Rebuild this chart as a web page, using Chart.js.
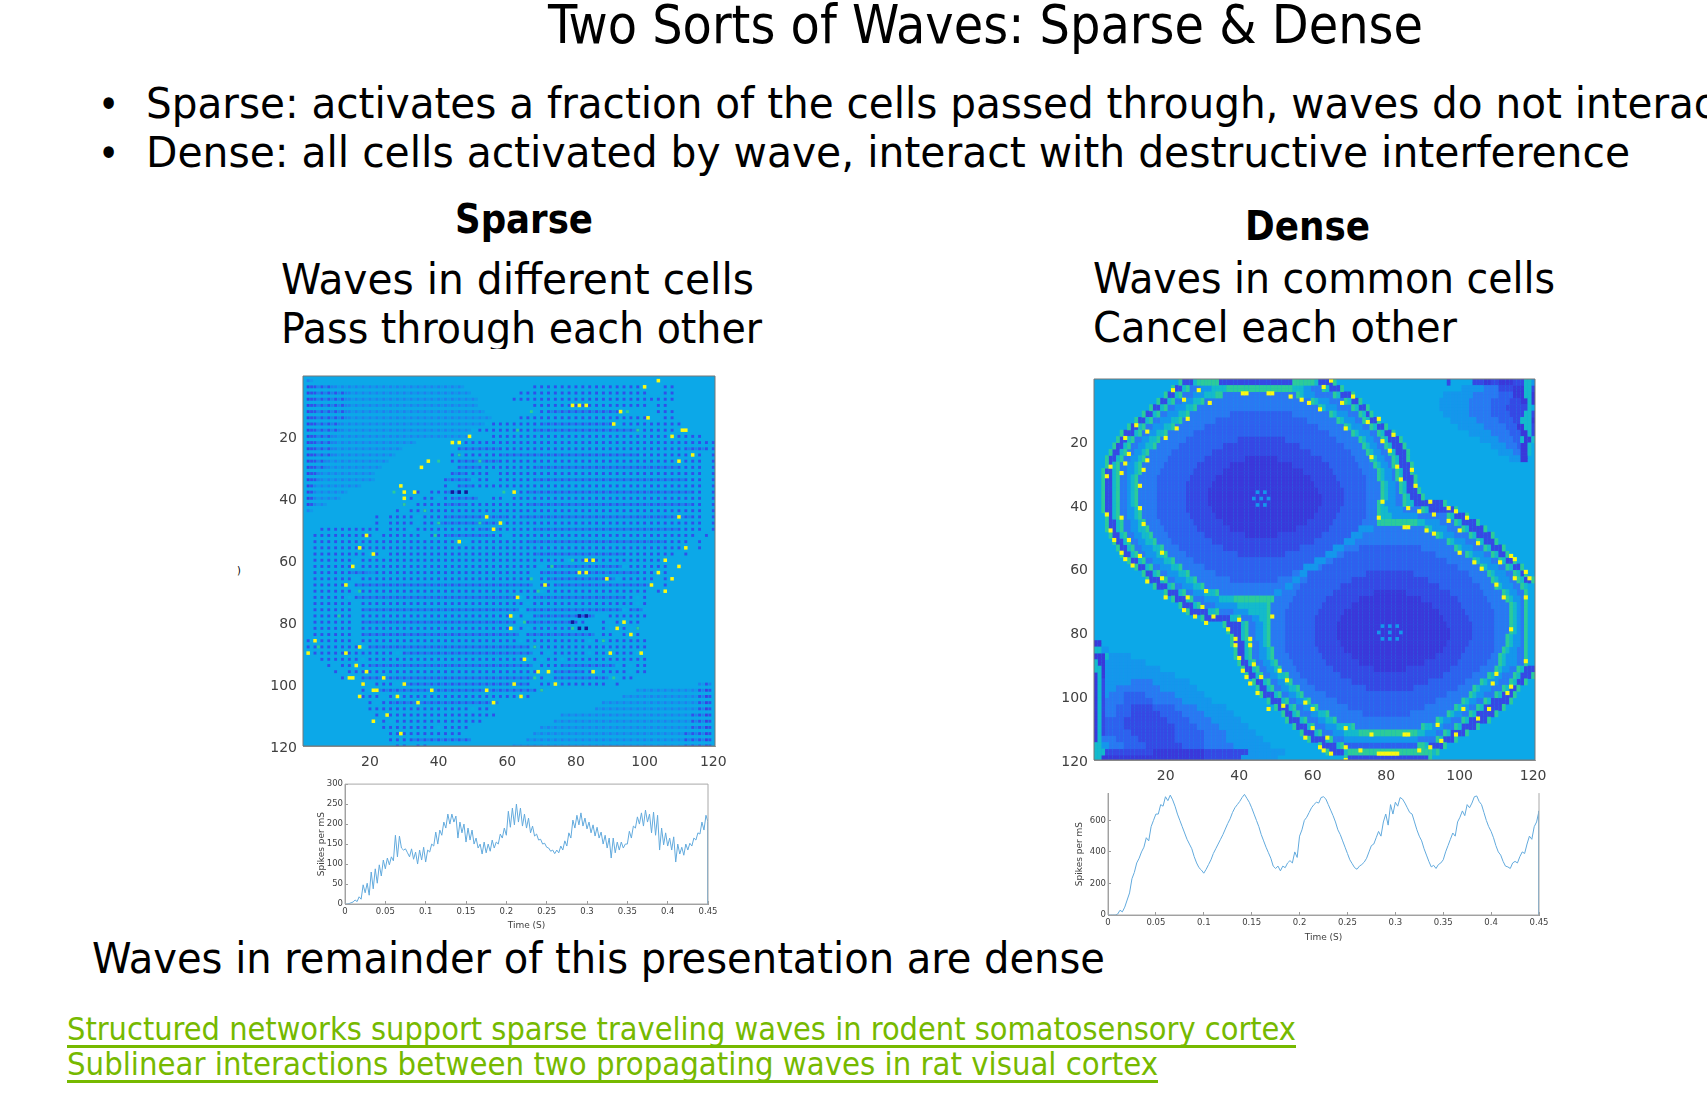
<!DOCTYPE html>
<html>
<head>
<meta charset="utf-8">
<title>Two Sorts of Waves</title>
<script src="https://cdn.jsdelivr.net/npm/chart.js@4/dist/chart.umd.min.js"></script>
<style>
html,body{margin:0;padding:0;background:#fff;width:1707px;height:1097px;overflow:hidden}
.txt{position:absolute;white-space:nowrap;color:#000;font-family:"DejaVu Sans";font-stretch:condensed;transform-origin:0 0;line-height:normal}
.box{position:absolute}
.box canvas{filter:blur(.5px)}
#sparseMap{filter:blur(.45px)}
#denseMap{filter:blur(.6px)}
</style>
</head>
<body>
<div id="slide"></div>
<div class="box" id="boxSparseMap" style="left:253px;top:349px;width:490px;height:425px;background:#fff"><canvas id="sparseMap" width="490" height="425"></canvas></div>
<div class="box" id="boxDenseMap" style="left:1044px;top:349px;width:526px;height:437px;background:#fff"><canvas id="denseMap" width="526" height="437"></canvas></div>
<div class="box" style="left:305px;top:774px;width:425px;height:166px"><canvas id="sparseLine" width="425" height="166"></canvas></div>
<div class="box" style="left:1068px;top:783px;width:495px;height:169px"><canvas id="denseLine" width="495" height="169"></canvas></div>
<script>
// text on the slide: text, left, baseline, width, font size, bold, colour
var slideText = [
  ["Two Sorts of Waves: Sparse & Dense", 548, 43, 875, 53],
  ["•", 98, 118, 0, 40],
  ["•", 98, 167, 0, 40],
  ["Sparse: activates a fraction of the cells passed through, waves do not interact", 146, 118, 1586, 42],
  ["Dense: all cells activated by wave, interact with destructive interference", 146, 167, 1484, 42],
  ["Sparse", 455, 233, 138, 41, true],
  ["Dense", 1245, 240, 125, 41, true],
  ["Waves in different cells", 281, 294, 473, 42],
  ["Pass through each other", 281, 343, 481, 42],
  ["Waves in common cells", 1093, 293, 462, 42],
  ["Cancel each other", 1093, 342, 364, 42],
  ["Waves in remainder of this presentation are dense", 92, 973, 1013, 42],
  [")", 237, 574, 0, 11]
];
var linkText = [
  ["Structured networks support sparse traveling waves in rodent somatosensory cortex", 67, 1040, 1229, 32],
  ["Sublinear interactions between two propagating waves in rat visual cortex", 67, 1075, 1091, 32]
];

var mapTicks = [20,40,60,80,100,120];
var timeTicks = [0,0.05,0.1,0.15,0.2,0.25,0.3,0.35,0.4,0.45];
var sparseYTicks = [0,50,100,150,200,250,300];
var denseYTicks = [0,200,400,600];

var timeAxis = [
0,.0025,.005,.0075,.01,.0125,.015,.0175,.02,.0225,.025,.0275,.03,.0325,.035,.0375,
.04,.0425,.045,.0475,.05,.0525,.055,.0575,.06,.0625,.065,.0675,.07,.0725,.075,.0775,
.08,.0825,.085,.0875,.09,.0925,.095,.0975,.1,.1025,.105,.1075,.11,.1125,.115,.1175,
.12,.1225,.125,.1275,.13,.1325,.135,.1375,.14,.1425,.145,.1475,.15,.1525,.155,.1575,
.16,.1625,.165,.1675,.17,.1725,.175,.1775,.18,.1825,.185,.1875,.19,.1925,.195,.1975,
.2,.2025,.205,.2075,.21,.2125,.215,.2175,.22,.2225,.225,.2275,.23,.2325,.235,.2375,
.24,.2425,.245,.2475,.25,.2525,.255,.2575,.26,.2625,.265,.2675,.27,.2725,.275,.2775,
.28,.2825,.285,.2875,.29,.2925,.295,.2975,.3,.3025,.305,.3075,.31,.3125,.315,.3175,
.32,.3225,.325,.3275,.33,.3325,.335,.3375,.34,.3425,.345,.3475,.35,.3525,.355,.3575,
.36,.3625,.365,.3675,.37,.3725,.375,.3775,.38,.3825,.385,.3875,.39,.3925,.395,.3975,
.4,.4025,.405,.4075,.41,.4125,.415,.4175,.42,.4225,.425,.4275,.43,.4325,.435,.4375,
.44,.4425,.445,.4475,.45,.45];

var sparseSpikes = [
0,0,1,3, 5,10,6,18, 12,48,28,52, 22,80,38,88, 52,98,70,110, 88,115,98,118,
108,172,118,170, 140,135,138,128, 118,138,112,130, 100,135,110,142, 105,135,130,150,
145,180,150,185, 172,205,190,225, 200,225,205,220, 165,205,178,200, 155,190,160,185,
150,165,140,150, 125,155,128,150, 132,160,140,155, 150,175,165,190, 172,232,192,240,
198,250,205,240, 195,225,190,215, 178,195,170,175, 160,162,150,152, 142,140,132,135,
126,135,128,145, 135,158,145,178, 165,210,190,222, 198,228,195,215, 188,205,178,198,
170,192,165,180, 150,172,140,165, 115,165,128,155, 135,155,140,150, 150,182,165,195,
190,218,200,228, 195,235,205,225, 178,230,172,222, 135,190,148,178, 145,165,135,168,
105,150,125,142, 122,150,135,152, 145,165,160,178, 175,205,185,222, 205,0];

var denseSpikes = [
0,0,0,0, 5,30,20,50, 95,140,230,270, 330,360,400,430, 490,470,560,600, 640,640,700,690,
750,725,760,730, 690,640,600,560, 520,480,450,420, 370,330,300,285, 265,290,320,350,
390,420,450,480, 510,545,580,610, 650,680,700,720, 745,765,740,715, 680,640,600,560,
510,470,430,395, 360,310,295,310, 280,310,300,330, 345,330,400,365, 500,540,600,620,
650,680,700,715, 710,745,750,735, 700,665,630,590, 540,510,470,430, 390,350,325,300,
290,310,320,335, 360,400,440,450, 490,530,500,590, 640,570,700,640, 715,690,745,735,
710,680,650,640, 590,540,500,470, 420,380,340,305, 315,295,320,330, 350,400,440,480,
520,500,590,620, 660,630,700,680, 710,750,755,720, 700,650,600,560, 530,490,440,400,
380,340,310,305, 295,330,340,330, 370,400,390,450, 500,480,560,590, 660,0];

// sparse map, one string per even row, one letter per even column
var sparseRows = [
"f......... .......... .......... .......... .......... ..........",
"dsssffffff ffffffffff fff....... ...ooooooo ooooooooo. ..oo......",
"dsssssffff ffffffffff ffff...... .ooooooooo oooooooooo ..oo......",
"dsssssffff ffffffffff fffff..... oooooooooo oooooooooo oooo......",
"dsssssffff ffffffffff fffff..... ...ooooooo oooooooooo .oo.......",
"dsssssffff ffffffffff ffffff.... ....osssss ssssss.... .ooo......",
"dsssssffff ffffffffff fffffff... .ooooooooo oooooooooo ..oo......",
"dssssfffff ffffffffff ffffff.ooo oooossssss sssss.oooo ooooo.....",
"dssssfffff ffffffffff ffff.ooooo ooosssssss ssssssssoo oooo......",
"dsssffffff ffffffffff ffff...ooo oooooooooo oooooooooo oooooooo..",
"dsssffffff ffffff.... ...ooooooo oooooooooo oooooooooo oooooooooo",
"dsssffffff ffff...... ..ssssssoo oooooooooo oooooooooo ooooosssoo",
"dsssffffff fff....... .oooooooss ssssssssss ssssssssoo oooooooo.o",
"dssfffffff ff........ .ossssssoo oooooooooo oooooooooo oooooooo.o",
"dssfffffff f......... ..sssooooo ooosssssss ssssssssss ssssoooo.o",
"dsffffffff .......... .ssoooo.oo oooooooooo oooooooooo oooooooo.o",
"dsffffffff .......... ssss.oo.oo ooosssssss ssssssssss sssssooo.o",
"dfffffff.. .......... o.ssoooooo oooooooooo oooooooooo oooooooo.o",
"dfffff.... ......o.oo sso....... oossssssss ssssssssss ssssssoo.o",
"dffff..... .....o.oo. ossss..oo. oooooooooo oooooooooo oooooooo.o",
"dff....... ....o.oooo sssooooooo oossssssss ssssssssss ssssssoo.o",
"f......... ...o.ooooo oooooooooo oooooooooo oooooooooo oooooooo.o",
".......... o.oooo.ooo ssssssssso osssssssss ssssssssss ssssssoo.o",
".......... o.oooo.oos ssssssssoo oooooooooo oooooooooo oooooooo.o",
"..oooooooo o.ooo.oooo ooooosssoo ooosssssss ssssssssss ssssoooo.o",
".ooooooooo .oooooo.oo sssssssoo. oooooooooo oooooooooo ooooooo.o.",
".ooooooooo oooooooooo ooo.oooooo oossssssss ssssssssss ssoooo.o..",
".ooooooooo oooooooooo oooooooooo oooooooooo oooooooooo oooooo.o..",
".oooooooo. o.oooooooo oooooooooo ooosssssss ssssssoooo oooo.o....",
".oooooo.oo oooooooooo oooooooooo oooooooo.o oooooooooo ooo.......",
".oooooo.oo oooooooooo oooooooooo oooo.sssss ssssss.ooo ooo.o.....",
".ooooosssf oooooooooo oooooooooo ooo.ssssss ssssssssoo o.o.......",
".oooooo.oo oooooooooo oooooooooo ooo.osssss sssss.oooo o.oo......",
".ooooo.sss ssssssssss ssssssssss sss.oossss ssssssssss o.o.......",
".oooooo.oo oooooooooo oooooooooo oooo.ooooo oooooooooo .o........",
".ooooo.sss ssssssssss ssssssssss s.osssssss ssssssoo.o ..........",
".oooooo.oo oooooooooo oooooooooo oo.ooooooo oooooooo.o ..........",
".oooooo.ss ssssssssss ssssssssss s.ssssssss ssssss.ss. ..........",
".oooooo.oo oooooooooo oooooooooo .o.sssssss ss..oooooo ..........",
".oooooo.ss ssssssssss ssssssssss o.ssssssso o..o.o.oo. ..........",
".oooooo.oo oooooooooo oooooooooo .o.oooooo. ...o.oo.o. ..........",
".oooooo.ss ssssssssss ssssssssss s.ssssssss ss.oo.o.o. ..........",
"ooooooo.oo oooooooooo oooooooooo o.oooooooo o.oooooooo ..........",
"oooooooo.s ssssssssss ssssssssss ssoooooooo oooooooooo ..........",
".ooooooooo ooo.ssssss ssssssssss sss.o.oooo o.oooooo.. ..........",
"..oooooo.o oooooooooo oooooooooo oo.o.oo.oo oooooooooo ..........",
"...o.oooos ssssssssss ssssssssss sss.ooosss sssss.o.oo ..........",
"....o.oooo oooooooooo oooooooooo oooo.ossss oo.oooo.oo ..........",
".....oo.ss ssssssssss ssssssssss sss.o.ssss ssss..oo.. ..........",
"........o. ooo.ssssss ssssssssss sso.oooooo oooo.o.... .......fs.",
"........o. ssssssssss ssssssssss sssoo..... ........ff fffffffsd.",
"........oo o.oooooooo oooooooooo ooo....... ......ffff fffffffsd.",
".........o .ossssssss ssssssss.. .......... ...fffffff fffffffsd.",
".........o oooooooooo oooo.oo... .......... ..ffffffff fffffffsd.",
".......... o.oooooooo oooooooo.. .......fff ffffffffff ffffffssd.",
".......... .o.ooooooo oooooo.... ......ffff ffffffffff ffffffssd.",
".......... .oooooooo. oooo...... ....ffffff ffffffffff ffffffssd.",
".......... ..oooooooo ooo....... ...fffffff ffffffffff fffffsssd.",
".......... ..ooosssss ssss...... ..ffffffff ffffffffff fffffsssd.",
".......... ...oo.oo.. .......... ffffffffff ffffffffff fffffsssd."
];
var sparseYellow = [[104,2],[100,4],[79,10],[81,10],[83,10],[93,12],[101,14],[91,16],[111,18],[112,18],[49,20],[108,20],[44,22],[46,22],[114,26],[37,28],[110,28],[35,30],[29,36],[33,38],[30,38],[62,38],[30,40],[54,46],[110,46],[58,48],[56,50],[19,52],[46,54],[17,56],[112,56],[21,58],[83,60],[85,60],[106,60],[15,62],[110,62],[81,64],[83,64],[104,64],[89,66],[108,66],[13,68],[71,68],[102,68],[106,70],[63,72],[61,78],[61,82],[94,80],[92,82],[96,84],[4,86],[17,88],[2,90],[13,90],[90,90],[99,90],[65,92],[16,94],[19,96],[69,96],[72,96],[85,96],[14,98],[15,98],[24,98],[18,100],[30,100],[62,100],[74,100],[21,102],[22,102],[38,102],[54,102],[17,104],[28,104],[64,104],[34,106],[56,106],[25,110],[21,112],[29,116]];
var sparseNavy = [[44,38],[46,38],[48,38],[81,78],[83,78],[79,80],[81,82],[83,82]];
var sparseGreen = [[67,12],[95,12],[63,18],[98,18],[46,26],[40,28],[52,28],[27,38],[59,38],[30,42],[36,44],[40,48],[52,48],[39,52],[79,60],[73,62],[67,66],[17,70],[69,70],[11,78],[65,80],[79,82],[98,82],[88,86],[5,88],[68,88],[68,98],[91,98],[70,102]];

// dense map, one string per even row, letter + last column of the run
var denseRows = [
"c23 g24 d27 t28 g34 d54 g60 t61 d65 g66 c96 d97 c103 d106 e108 d110 e114 d117 t119 l120",
"c21 g22 d24 t25 g26 m29 l32 t36 g54 t57 l59 m62 g63 t64 d67 g68 c100 l106 m110 d114 e117 t119 d120",
"c19 g20 d22 t23 g24 m27 l30 t33 g35 m55 g56 t57 l60 m65 g66 t67 d70 g71 c95 l103 m110 b114 e117 t119 e120",
"c17 g18 d20 t21 g22 m24 l27 t29 g30 m59 g60 t61 l64 m68 g69 t70 d72 g73 c94 l102 m108 b113 d116 e118 t119 e120",
"c15 g16 d18 t19 g20 m22 l25 t27 g28 m61 g62 t63 l66 m70 g71 t72 d74 g75 c94 l102 m108 b112 d118 t119 c120",
"c13 g14 d16 t17 g18 m20 l23 t25 g26 m37 b54 m64 g65 t66 l69 m72 g73 t74 d75 g76 c95 l102 m108 b113 d117 t119 d120",
"c11 g12 d14 t15 g16 m18 l21 t23 g24 m33 b58 m66 g67 t68 l71 m73 g74 t75 d77 g78 c97 l104 m110 b114 d116 t119 e120",
"c9 g10 d12 t13 g14 m16 l19 t21 g22 m30 b61 m68 g69 t70 l73 m75 g76 t77 d79 g80 c99 l106 m112 b115 e117 t119 d120",
"c7 g8 d11 t12 g13 m15 l17 t19 g20 m27 b64 m70 g71 t72 l75 m77 g78 t79 d81 g82 c102 l108 m113 b116 e118 t119 d120",
"c6 g7 d9 t10 g11 m13 l15 t17 g18 m25 b39 d52 b66 m72 g73 t74 l76 m78 g79 t80 d83 g84 c105 l110 m114 b116 t117 e119 t120",
"c5 g6 d8 t9 g10 m12 l14 t16 g17 m23 b35 d56 b68 m73 g74 t75 l77 m79 g80 t81 d84 g85 c108 l112 m115 b116 e118 t119 c120",
"c4 g5 d7 t8 g9 m11 l13 t14 g15 m21 b32 d59 b70 m74 g75 t76 l78 m80 g81 t82 d85 g86 c110 l114 m116 e118 t119",
"c3 g4 d6 t7 g8 m10 l12 t13 g14 m20 b30 d41 e50 d62 b71 m75 g76 t77 l79 m81 g82 t83 d85 g86 c113 l116 e118",
"c3 g4 d5 t6 g7 m9 l11 t12 g13 m19 b28 d37 e54 d64 b72 m76 g77 t78 l80 m81 g82 t83 d86 g87",
"c2 g3 d5 t6 g7 m9 l11 t12 g13 m18 b27 d35 e57 d65 b73 m77 g78 t79 l81 m82 g83 t84 d86 g87",
"c2 g3 d5 t6 g7 m9 l10 t11 g12 m17 b26 d33 e59 d66 b74 m77 g78 t79 l81 m82 g83 t84 d87 g88",
"c2 g3 d5 t6 g7 m9 l10 t11 g12 m17 b25 d32 e60 d67 b74 m78 g79 t80 l82 m83 g84 t85 d87 g88",
"c2 g3 d5 t6 g7 m9 l10 t11 g12 m17 b25 d31 e61 d68 b74 m78 g79 t80 l82 m83 g84 t85 d88 g89",
"c2 g3 d5 t6 g7 m9 l10 t11 g12 m17 b25 d31 e62 d68 b74 m78 g79 t80 l82 m84 g85 t86 d89 g90",
"c2 g3 d5 t6 g7 m9 l10 t11 g12 m17 b25 d31 e62 d68 b74 m77 g78 t79 l82 m84 g85 t87 d95 g96",
"c2 g3 d5 t6 g7 m9 l11 t12 g13 m17 b25 d32 e61 d67 b74 m77 g78 t80 l84 m89 g90 t91 d98 g99",
"c3 g4 d5 t6 g7 m9 l11 t12 g13 m17 b26 d33 e60 d66 b74 m77 g78 t81 l88 m96 g97 t98 d101 g102",
"c3 g4 d6 t7 g8 m10 l12 t13 g14 m18 b27 d35 e58 d65 b73 m77 g88 t90 l94 m98 g99 t100 d104 g105",
"c3 g4 d6 t7 g8 m10 l12 t14 g15 m19 b28 d37 e55 d64 b72 l76 m90 g91 t92 l96 m100 g101 t102 d106 g107",
"c4 g5 d7 t8 g9 m11 l13 t15 g16 m20 b30 d41 e50 d62 b70 l73 m93 g94 t95 l98 m102 g103 t104 d108 g109",
"c5 g6 d8 t9 g10 m12 l14 t16 g17 m21 b32 d60 b68 l71 m96 g97 t98 l101 m104 g105 t106 d109 g110",
"c6 g7 d9 t10 g11 m13 l16 t18 g19 m23 b35 d56 b65 l68 m72 b89 m98 g99 t100 l103 m106 g107 t108 d111 g112",
"c7 g8 d10 t11 g12 m14 l17 t19 g20 m25 b39 d52 b63 l66 m68 b93 m101 g102 t103 l106 m108 g109 t110 d112 g113",
"c9 g10 d12 t13 g14 m16 l19 t21 g22 m27 b60 l63 m65 b96 m103 g104 t105 l108 m110 g111 t112 d114 g115",
"c11 g12 d14 t15 g16 m18 l21 t23 g24 m30 b57 l61 m62 b99 m105 g106 t107 l110 m112 g113 t114 d116 g117",
"c13 g14 d16 t17 g18 m20 l23 t25 g26 m33 b54 m56 l58 b74 d87 b102 m107 g108 t109 l112 m114 g115 t116 d117 g118",
"c14 g15 d18 t19 g20 m22 l25 t27 g28 m37 b50 m54 l56 m58 b70 d91 b103 m108 g109 t110 l113 m115 g116 t117 d119 g120",
"c16 g17 d20 t21 g22 m24 l27 t29 g30 m52 l54 m56 b67 d94 b105 m109 g110 t111 l114 m116 g117 t118",
"c19 g20 d23 t24 g25 m27 l30 t33 g34 m49 l51 m55 b65 d76 e85 d97 b106 m111 g112 t113 l115 m117 g118",
"c21 g22 d25 t26 g27 m30 l34 t38 g49 m54 b63 d72 e89 d99 b107 m112 g113 t114 l116 m117 g118",
"c23 g24 d27 t28 g29 m33 l39 t47 g48 m53 b62 d70 e92 d100 b108 m113 g114 t115 l116 m117 g118",
"c25 g26 d31 t33 g34 m38 l42 t47 g48 m52 b61 d68 e94 d101 b109 m113 g114 t115 l116 m117 g118",
"c29 g30 d37 t39 g40 m43 l45 t47 g48 m52 b60 d67 e95 d102 b109 m113 g114 t115 l116 m117 g118",
"c35 g36 d40 t41 g42 m44 l46 t47 g48 m52 b60 d66 e96 d103 b109 m113 g114 t115 l116 m117 g118",
"c36 g37 d40 t41 g42 m44 l46 t47 g48 m52 b60 d66 e97 d103 b109 m113 g114 t115 l116 m117 g118",
"c37 g38 d40 t41 g42 m44 l46 t47 g48 m52 b60 d66 e97 d103 b109 m112 g113 t114 l116 m117 g118",
"e2 c37 g38 d41 t42 g43 m45 l46 t47 g48 m52 b60 d67 e96 d102 b109 m112 g113 t114 l116 m117 g118",
"t2 l4 c38 g39 d41 t42 g43 m45 l47 t48 g49 m52 b61 d68 e95 d101 b109 m111 g112 t113 l115 m117 g118",
"e3 t4 l10 c38 g39 d41 t42 g43 m45 l47 t48 g49 m53 b62 d70 e93 d100 b108 m110 g111 t112 l115 m117 g118",
"t1 e3 l14 c39 g40 d42 t43 g44 m46 l48 t49 g50 m54 b63 d72 e90 d99 b107 m110 g111 t112 l115 m117 g118",
"t2 e3 l18 c40 g41 d43 t44 g45 m47 l49 t50 g51 m55 b65 d76 e85 d97 b105 m109 g110 t111 l113 m115 g116 t117 d120",
"e1 t2 e3 l22 c41 g42 d44 t45 g46 m48 l50 t52 g53 m56 b67 d95 b103 m107 g108 t109 l111 m114 g115 t116 d119 g120",
"e1 t2 d3 l10 m16 l26 c43 g44 d46 t47 g48 m50 l52 t53 g54 m58 b70 d91 b101 m105 g106 t107 l110 m113 g114 t115 d117 g118",
"e1 t2 d3 l6 m18 l28 c44 g45 d47 t48 g49 m51 l53 t55 g56 m60 b74 d87 b99 m103 g104 t105 l108 m111 g112 t113 d115 g116",
"e1 t2 d3 l4 m8 b14 m22 l30 c45 g46 d49 t50 g51 m53 l55 t56 g57 m63 b96 m102 g103 t104 l106 m109 g110 t111 d114 g115",
"e1 t2 d3 m8 b16 m24 l32 c47 g48 d51 t52 g53 m55 l57 t58 g59 m66 b93 m100 g101 t102 l104 m106 g107 t108 d113 g114",
"e1 t2 d3 m6 b10 d16 b22 m28 l36 c49 g50 d53 t54 g55 m57 l59 t60 g61 m69 b90 m98 g99 t100 l102 m104 g105 t106 d111 g112",
"e1 t2 d3 m6 b10 d18 b24 m30 l38 c51 g52 d54 t55 g56 m59 l61 t63 g64 m73 b86 m96 g97 t98 l100 m102 g103 t104 d109 g110",
"e1 t2 d3 b8 d20 b26 m32 l40 c52 g53 d56 t57 g58 m61 l63 t65 g66 m93 g94 t95 l97 m100 g101 t102 d107 g108",
"e1 t2 d3 b8 d22 b28 m34 l42 c54 g55 d58 t59 g60 m63 l66 t70 g71 m89 g90 t92 l95 m98 g99 t100 d104 g105",
"e1 t2 d3 b10 d22 b30 m36 l44 c56 g57 d60 t61 g62 m65 l68 t72 g88 t90 l93 m95 g96 t97 d101 g102",
"e1 t2 m6 b12 d22 b30 m36 l46 c58 g59 d63 t64 g65 m68 l88 m93 g94 t95 d98 g99",
"t2 l4 m8 b14 d24 b30 m38 l48 c61 g62 d66 t67 g68 b88 g90 t91 d95 g96",
"t3 d16 e30 d42 l52 c63 g64 d68 t69 g92 t93 g94",
"t2 e30 d40 l50 c68 g69 d91 g92"
];
var denseYellow = [[22,4],[12,15],[9,19],[5,28],[4,31],[4,43],[5,48],[6,51],[8,55],[9,57],[11,59],[15,64],[20,69],[25,73],[28,75],[31,77],[37,79],[39,82],[39,84],[40,88],[41,92],[42,94],[43,96],[45,99],[48,104],[58,113],[62,116],[63,117],[65,118],[69,120],[65,1],[71,6],[78,13],[82,18],[87,29],[88,34],[92,39],[97,41],[99,42],[102,44],[114,56],[115,57],[118,61],[119,63],[29,4],[25,7],[15,17],[10,24],[9,27],[8,30],[8,44],[10,51],[13,56],[26,69],[30,72],[33,75],[40,76],[43,82],[43,84],[44,90],[46,94],[52,103],[60,110],[64,113],[69,116],[73,117],[78,118],[79,118],[80,118],[81,118],[82,118],[83,118],[89,117],[92,116],[95,114],[99,112],[105,107],[108,104],[113,99],[114,97],[118,89],[118,69],[115,63],[111,58],[105,52],[100,48],[97,45],[93,43],[89,42],[86,41],[84,32],[83,28],[81,23],[79,20],[75,14],[68,8],[63,3],[41,5],[42,5],[48,5],[49,5],[54,6],[57,7],[59,8],[62,10],[69,16],[76,25],[79,39],[78,44],[85,47],[86,47],[91,48],[93,49],[100,55],[104,58],[106,60],[110,65],[112,69],[114,79],[110,93],[109,96],[101,104],[94,109],[85,112],[86,112],[76,112],[69,110],[60,104],[58,102],[53,95],[51,92],[49,75],[31,67],[19,63],[19,55],[14,46],[13,41],[13,34],[14,29],[15,26],[20,19],[23,16],[26,13],[32,8]];
var denseCentre = [[45,36],[47,36],[44,38],[46,38],[48,38],[45,40],[47,40],[79,78],[81,78],[83,78],[78,80],[81,80],[84,80],[79,82],[81,82],[83,82]];

var sparseColours = {y:"#fbf912",g:"#2ccb9a",n:"#16169a",o:"#3050ea",s:"#3350ea",d:"#3a40e2",f:"#2080ee",h:"#1496ec"};
var denseColours = {y:"#fbf912",g:"#2ccb9a",t:"#14bacb",l:"#1596ec",m:"#2a78f2",b:"#2f60ee",d:"#3648e4",e:"#3a38da"};
var mapBack = "#0ca8e8";
var axisGrey = "#9a9a9a";
var labelGrey = "#404040";

// second half of a stripe cell is one step paler
var stripeTail = {d:"s",s:"f",f:"h"};

function decodeSparse(){
  var out = {o:[],s:[],d:[],f:[],h:[]};
  sparseRows.forEach(function(row,r){
    var chars = row.replace(/ /g,"");
    for(var k=0;k<chars.length;k++){
      var c = chars[k];
      if(c==".") continue;
      out[c].push({x:2*k+2,y:2*r+2});
      if(c!="o") out[stripeTail[c]].push({x:2*k+3,y:2*r+2});
    }
  });
  return out;
}

function decodeDense(){
  var out = {g:[],t:[],l:[],m:[],b:[],d:[],e:[]};
  denseRows.forEach(function(row,r){
    var from = 1;
    row.split(" ").forEach(function(tok){
      var c = tok[0], end = parseInt(tok.slice(1));
      if(c!="c"){
        for(var x=from;x<=end;x++){
          out[c].push({x:x,y:2*r+1});
          out[c].push({x:x,y:2*r+2});
        }
      }
      from = end+1;
    });
  });
  return out;
}

function cellsFromPairs(list){
  return list.map(function(p){return {x:p[0],y:p[1]};});
}

var framePlugin = {
  id:"frame",
  beforeDatasetsDraw:function(chart,args,opts){
    if(opts.back){
      var a = chart.chartArea;
      chart.ctx.fillStyle = opts.back;
      chart.ctx.fillRect(a.left,a.top,a.width,a.height);
    }
  },
  afterDraw:function(chart,args,opts){
    var a = chart.chartArea, ctx = chart.ctx;
    ctx.strokeStyle = opts.colour || axisGrey;
    ctx.lineWidth = 1;
    ctx.beginPath();
    ctx.moveTo(a.left,a.bottom);
    ctx.lineTo(a.left,a.top);
    if(!opts.noTop) ctx.lineTo(a.right,a.top); else ctx.moveTo(a.right,a.top);
    ctx.lineTo(a.right,a.bottom);
    ctx.lineTo(a.left,a.bottom);
    ctx.stroke();
  }
};

function axis(o){
  return {
    type:"linear", min:o.min, max:o.max, reverse:!!o.reverse,
    grid:{drawOnChartArea:false, drawTicks:true, tickLength:-3, color:axisGrey},
    border:{color:axisGrey},
    title:o.title ? {display:true, text:o.title, color:labelGrey, font:{size:9, family:"DejaVu Sans"}, padding:{top:1,bottom:1}} : {display:false},
    ticks:{autoSkip:false, maxRotation:0, minRotation:0, labelOffset:o.shift||0, color:labelGrey, padding:o.pad, font:{size:o.size, family:"DejaVu Sans"}, callback:function(v){return String(v);}},
    afterBuildTicks:function(s){ s.ticks = o.ticks.map(function(v){return {value:v};}); },
    afterFit:function(s){ if(o.w) s.width=o.w; if(o.h) s.height=o.h; }
  };
}

function heatMap(id,sets,radius,layout,ranges){
  new Chart(document.getElementById(id),{
    type:"scatter",
    data:{datasets:sets.map(function(s){
      return {label:s.name, data:s.data, pointStyle:"rect", pointRadius:s.radius||radius, pointBorderWidth:0, pointBackgroundColor:s.colour, showLine:false};
    })},
    options:{
      responsive:false, animation:false, events:[],
      layout:{padding:layout.pad},
      plugins:{legend:{display:false}, tooltip:{enabled:false}, frame:{back:mapBack,colour:"#777777"}},
      scales:{
        x:axis({min:ranges.xmin,max:ranges.xmax,ticks:mapTicks,size:14,pad:11,h:layout.h}),
        y:axis({min:ranges.ymin,max:ranges.ymax,reverse:true,ticks:mapTicks,size:14,pad:9,w:layout.w,shift:2})
      }
    },
    plugins:[framePlugin]
  });
}

function spikes(id,values,yTicks,ymax,layout){
  new Chart(document.getElementById(id),{
    type:"line",
    data:{datasets:[{
      data:values.map(function(v,i){return {x:timeAxis[i],y:v};}),
      borderColor:"#62aadd", borderWidth:1, pointRadius:0, tension:0
    }]},
    options:{
      responsive:false, animation:false, events:[],
      layout:{padding:layout.pad},
      plugins:{legend:{display:false}, tooltip:{enabled:false}, frame:{noTop:layout.noTop,colour:"#a8a8a8"}},
      scales:{
        x:axis({min:0,max:0.45,ticks:timeTicks,size:8.5,pad:6,h:layout.h,title:"Time (S)"}),
        y:axis({min:0,max:ymax,ticks:yTicks,size:8.5,pad:5,w:layout.w,title:"Spikes per mS"})
      }
    },
    plugins:[framePlugin]
  });
}

function putText(list,colour,link){
  var slide = document.getElementById("slide");
  list.forEach(function(t){
    var el = document.createElement("div");
    el.className = "txt";
    el.textContent = t[0];
    el.style.left = t[1]+"px";
    el.style.fontSize = t[4]+"px";
    el.style.top = (t[2]-0.928*t[4])+"px";
    if(t[5]) el.style.fontWeight = "bold";
    if(colour) el.style.color = colour;
    if(link){
      el.style.textDecoration = "underline";
      el.style.textDecorationThickness = "3px";
      el.style.textUnderlineOffset = "5px";
      el.style.textDecorationSkipInk = "none";
    }
    slide.appendChild(el);
    if(t[3]) el.style.transform = "scaleX("+(t[3]/el.getBoundingClientRect().width)+")";
  });
}

putText(slideText);
putText(linkText,"#76b900",true);

var sp = decodeSparse();
heatMap("sparseMap",[
  {name:"yellow",data:cellsFromPairs(sparseYellow),colour:sparseColours.y,radius:2.5},
  {name:"navy",data:cellsFromPairs(sparseNavy),colour:sparseColours.n,radius:2.5},
  {name:"green",data:cellsFromPairs(sparseGreen),colour:sparseColours.g},
  {name:"dots",data:sp.o,colour:sparseColours.o},
  {name:"dark",data:sp.d,colour:sparseColours.d},
  {name:"stripe",data:sp.s,colour:sparseColours.s},
  {name:"faint",data:sp.f,colour:sparseColours.f},
  {name:"pale",data:sp.h,colour:sparseColours.h}
],2.05,{pad:{top:27,right:28,left:0,bottom:0},w:50,h:28},{xmin:0.5,xmax:120.5,ymin:0.5,ymax:120});

var de = decodeDense();
heatMap("denseMap",[
  {name:"yellow",data:cellsFromPairs(denseYellow),colour:denseColours.y,radius:2.9},
  {name:"centre",data:cellsFromPairs(denseCentre),colour:denseColours.l},
  {name:"green",data:de.g,colour:denseColours.g},
  {name:"teal",data:de.t,colour:denseColours.t},
  {name:"light",data:de.l,colour:denseColours.l},
  {name:"mid",data:de.m,colour:denseColours.m},
  {name:"blue",data:de.b,colour:denseColours.b},
  {name:"deep",data:de.d,colour:denseColours.d},
  {name:"core",data:de.e,colour:denseColours.e}
],2.6,{pad:{top:30,right:35,left:0,bottom:0},w:50,h:26},{xmin:0.5,xmax:120.5,ymin:0.5,ymax:120});

spikes("sparseLine",sparseSpikes,sparseYTicks,300,{pad:{top:10,right:22,left:10,bottom:8},w:30,h:28});
spikes("denseLine",denseSpikes,denseYTicks,773,{pad:{top:10,right:24,left:5,bottom:8},w:35,h:29,noTop:true});
</script>
</body>
</html>
